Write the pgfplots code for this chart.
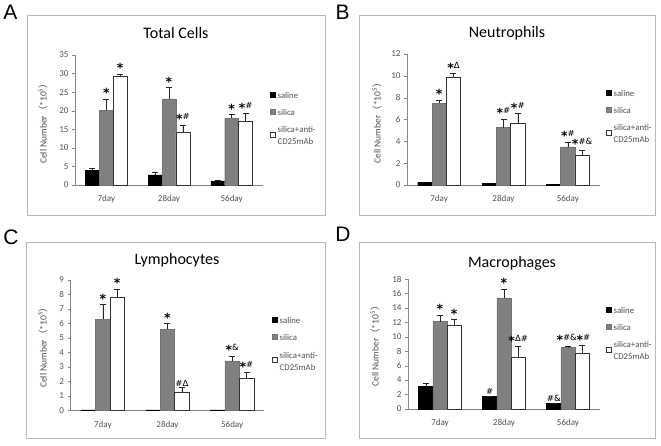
\documentclass[border=0pt]{standalone}
\usepackage{fontspec}
\setmainfont{Carlito}
\newfontfamily\arialf{Liberation Sans}
\newfontfamily\djv{DejaVu Sans}
\newfontfamily\cjk{Noto Sans CJK SC}
\usepackage{pgfplots}
\pgfplotsset{compat=1.18}

\definecolor{silicagray}{RGB}{128,128,128}
\definecolor{axisgray}{RGB}{134,134,134}
\definecolor{boxgray}{RGB}{185,185,185}
\definecolor{labelgray}{RGB}{80,80,80}

% bold asterisk, big and brought down to the baseline
\newcommand\st{\raisebox{-4pt}{\bfseries\fontsize{12.5}{12.5}\selectfont *}}

\pgfplotsset{
  panel/.style={
    scale only axis, anchor=south west, clip=false,
    ybar=0pt, bar width=0.2222,
    xmin=-0.5, xmax=2.5, ymin=0,
    xtick={0,1,2}, xticklabels={7day,28day,56day},
    axis x line*=bottom, axis y line*=left,
    axis line style={axisgray,-},
    xtick style={draw=none}, ytick style={axisgray},
    tick align=outside, major tick length=3pt,
    ticklabel style={font=\fontsize{9}{10}\selectfont, text=labelgray},
    xticklabel style={yshift=-4pt},
    /pgf/number format/assume math mode=true,
    ylabel={Cell Number{\cjk （}*10\textsuperscript{5}{\cjk ）}},
    ylabel style={font=\fontsize{9.5}{10}\selectfont, text=labelgray, anchor=center},
    legend cell align=left,
    legend style={draw=none, fill=none, anchor=north west, inner sep=0pt,
      font=\fontsize{8.8}{12}\selectfont, text=labelgray,
      nodes={inner sep=1pt, align=left}, row sep=7.5pt,
      /tikz/every odd column/.append style={column sep=1pt}},
    legend image code/.code={\draw[##1] (0pt,-0.5pt) rectangle (5pt,4.5pt);},
  },
  eb/.style={error bars/.cd, y dir=plus, y explicit,
    error bar style={black!85, line width=0.5pt},
    error mark options={rotate=90, mark size=3pt, black!85, line width=0.5pt}},
  saline/.style={fill=black, draw=black},
  silica/.style={fill=silicagray, draw=black!55},
  anti/.style={fill=white, draw=black!80},
}
\tikzset{anno/.style={anchor=south, inner sep=1pt, font=\djv\fontsize{8.5}{8.5}\selectfont}}

\begin{document}
\begin{tikzpicture}[x=1pt,y=1pt]
\useasboundingbox (0,0) rectangle (661,446);

% frames round the four panels
\draw[boxgray] (27,231) rectangle (325,431);
\draw[boxgray] (359,231) rectangle (655,431);
\draw[boxgray] (26,8) rectangle (325,204);
\draw[boxgray] (359,8) rectangle (655,204);

% panel letters and titles
\node[font=\arialf\fontsize{21}{21}\selectfont] at (10.5,433.5) {A};
\node[font=\arialf\fontsize{21}{21}\selectfont] at (342.5,433.5) {B};
\node[font=\arialf\fontsize{21}{21}\selectfont] at (11,208.5) {C};
\node[font=\arialf\fontsize{21}{21}\selectfont] at (343,212) {D};
\node[font=\fontsize{16}{16}\selectfont] at (176,413) {Total Cells};
\node[font=\fontsize{16}{16}\selectfont] at (507,413) {Neutrophils};
\node[font=\fontsize{16}{16}\selectfont] at (177,186) {Lymphocytes};
\node[font=\fontsize{16}{16}\selectfont] at (512,183) {Macrophages};

% A: total cells
\begin{axis}[panel, at={(75pt,261pt)}, width=188pt, height=130pt,
  ymax=35, ytick distance=5,
  ylabel style={at={(axis description cs:-0.17,0.49)}},
  legend style={at={(axis description cs:1.037,0.72)}}]
\addplot[saline,eb] coordinates {(0,4.0) +- (0,0.6) (1,2.7) +- (0,0.6) (2,1.1) +- (0,0.2)};
\addplot[silica,eb] coordinates {(0,20.1) +- (0,3.0) (1,23.2) +- (0,3.0) (2,18.1) +- (0,0.9)};
\addplot[anti,eb] coordinates {(0,29.4) +- (0,0.5) (1,14.2) +- (0,2.0) (2,17.2) +- (0,2.1)};
\legend{saline,silica,silica+anti-\\CD25mAb}
\node[anno] at (axis cs:0,23.1) {\st};
\node[anno] at (axis cs:0.2222,29.9) {\st};
\node[anno] at (axis cs:1,26.2) {\st};
\node[anno] at (axis cs:1.2222,16.2) {\st\#};
\node[anno] at (axis cs:2,19.0) {\st};
\node[anno] at (axis cs:2.2222,19.3) {\st\#};
\end{axis}

% B: neutrophils
\begin{axis}[panel, at={(407pt,261pt)}, width=193pt, height=131pt,
  ymax=12, ytick distance=2,
  ylabel style={at={(axis description cs:-0.155,0.49)}},
  legend style={at={(axis description cs:1.031,0.73)}}]
\addplot[saline] coordinates {(0,0.25) (1,0.15) (2,0.08)};
\addplot[silica,eb] coordinates {(0,7.5) +- (0,0.3) (1,5.26) +- (0,0.8) (2,3.5) +- (0,0.45)};
\addplot[anti,eb] coordinates {(0,9.85) +- (0,0.35) (1,5.66) +- (0,0.9) (2,2.7) +- (0,0.5)};
\legend{saline,silica,silica+anti-\\CD25mAb}
\node[anno] at (axis cs:0,7.8) {\st};
\node[anno] at (axis cs:0.2222,10.2) {\st Δ};
\node[anno] at (axis cs:1,6.06) {\st\#};
\node[anno] at (axis cs:1.2222,6.56) {\st\#};
\node[anno] at (axis cs:2,3.95) {\st\#};
\node[anno] at (axis cs:2.2222,3.2) {\st\#\&};
\end{axis}

% C: lymphocytes
\begin{axis}[panel, at={(70.5pt,35.5pt)}, width=194pt, height=130.5pt,
  ymax=9, ytick distance=1,
  ylabel style={at={(axis description cs:-0.142,0.5)}},
  legend style={at={(axis description cs:1.039,0.72)}}]
\addplot[saline] coordinates {(0,0.04) (1,0.04) (2,0.04)};
\addplot[silica,eb] coordinates {(0,6.3) +- (0,1.0) (1,5.6) +- (0,0.4) (2,3.43) +- (0,0.33)};
\addplot[anti,eb] coordinates {(0,7.8) +- (0,0.58) (1,1.23) +- (0,0.37) (2,2.22) +- (0,0.39)};
\legend{saline,silica,silica+anti-\\CD25mAb}
\node[anno] at (axis cs:0,7.3) {\st};
\node[anno] at (axis cs:0.2222,8.38) {\st};
\node[anno] at (axis cs:1,6.0) {\st};
\node[anno] at (axis cs:1.2222,1.6) {\#Δ};
\node[anno] at (axis cs:2,3.76) {\st\&};
\node[anno] at (axis cs:2.2222,2.61) {\st\#};
\end{axis}

% D: macrophages
\begin{axis}[panel, at={(408pt,37pt)}, width=192pt, height=130pt,
  ymax=18, ytick distance=2,
  ylabel style={at={(axis description cs:-0.172,0.5)}},
  legend style={at={(axis description cs:1.031,0.79)}}]
\addplot[saline,eb] coordinates {(0,3.09) +- (0,0.45) (1,1.71) +- (0,0.1) (2,0.78) +- (0,0.07)};
\addplot[silica,eb] coordinates {(0,12.1) +- (0,0.9) (1,15.4) +- (0,1.2) (2,8.5) +- (0,0.2)};
\addplot[anti,eb] coordinates {(0,11.6) +- (0,0.8) (1,7.16) +- (0,1.5) (2,7.7) +- (0,1.1)};
\legend{saline,silica,silica+anti-\\CD25mAb}
\node[anno] at (axis cs:0,13.0) {\st};
\node[anno] at (axis cs:0.2222,12.4) {\st};
\node[anno] at (axis cs:0.7778,1.81) {\#};
\node[anno] at (axis cs:1,16.6) {\st};
\node[anno] at (axis cs:1.2222,8.66) {\st Δ\#};
\node[anno] at (axis cs:1.7778,0.85) {\#\&};
\node[anno] at (axis cs:1.98,8.7) {\st\#\&};
\node[anno] at (axis cs:2.2422,8.8) {\st\#};
\end{axis}
\end{tikzpicture}
\end{document}
